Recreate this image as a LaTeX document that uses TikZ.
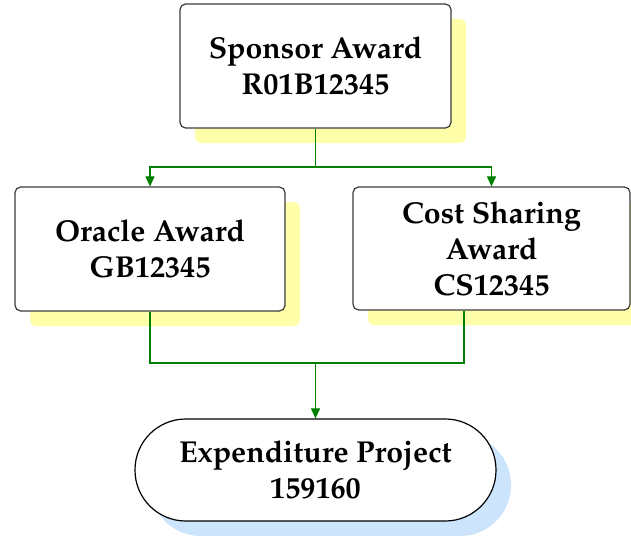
\documentclass[tikz,border=0pt]{standalone}
\usepackage[T1]{fontenc}
\renewcommand{\rmdefault}{ppl}
\usetikzlibrary{shadows,arrows.meta,calc}
\definecolor{shy}{RGB}{255,255,170}
\definecolor{shb}{RGB}{204,228,252}
\definecolor{lgreen}{RGB}{0,128,0}
\definecolor{bord}{RGB}{60,60,60}
\begin{document}
\begin{tikzpicture}[x=0.5pt,y=-0.5pt,
  box/.style={draw=bord, line width=0.6pt, fill=white, rounded corners=2.8pt,
    align=center, inner sep=0pt,
    font=\fontsize{15.1}{18}\selectfont\bfseries,
    drop shadow={shadow xshift=7.5pt, shadow yshift=-7.5pt, fill=shy, opacity=1}},
  term/.style={draw=black, line width=0.6pt, fill=white, rounded corners=25.4pt,
    align=center, inner sep=0pt,
    minimum width=180.5pt, minimum height=51pt,
    font=\fontsize{15.1}{18}\selectfont\bfseries,
    drop shadow={shadow xshift=7.5pt, shadow yshift=-7.5pt, fill=shb, opacity=1}},
  gline/.style={draw=lgreen, line width=0.55pt},
  garrow/.style={gline, -{Triangle[length=5pt,width=4.5pt]}}
]
\useasboundingbox (0,0) rectangle (631,535);
\node[box, minimum width=135.5pt, minimum height=62pt] (spon) at (315.5,66) {Sponsor Award\\R01B12345};
\node[box, minimum width=135pt, minimum height=62pt] (orac) at (150,249) {Oracle Award\\GB12345};
\node[box, minimum width=138.5pt, minimum height=61.5pt] (cost) at (491.5,248.5) {Cost Sharing\\Award\\CS12345};
\node[term] (exp) at (315.5,470) {Expenditure Project\\159160};
\coordinate (split) at (315.5,167);
\coordinate (merge) at (315.5,363);
\draw[gline] (spon.south) -- (split);
\draw[garrow] (split) -| (orac.north);
\draw[garrow] (split) -| (cost.north);
\draw[gline] (orac.south) |- (merge);
\draw[gline] ([xshift=-13.75pt]cost.south) |- (merge);
\draw[garrow] (merge) -- (exp.north);
\end{tikzpicture}
\end{document}
